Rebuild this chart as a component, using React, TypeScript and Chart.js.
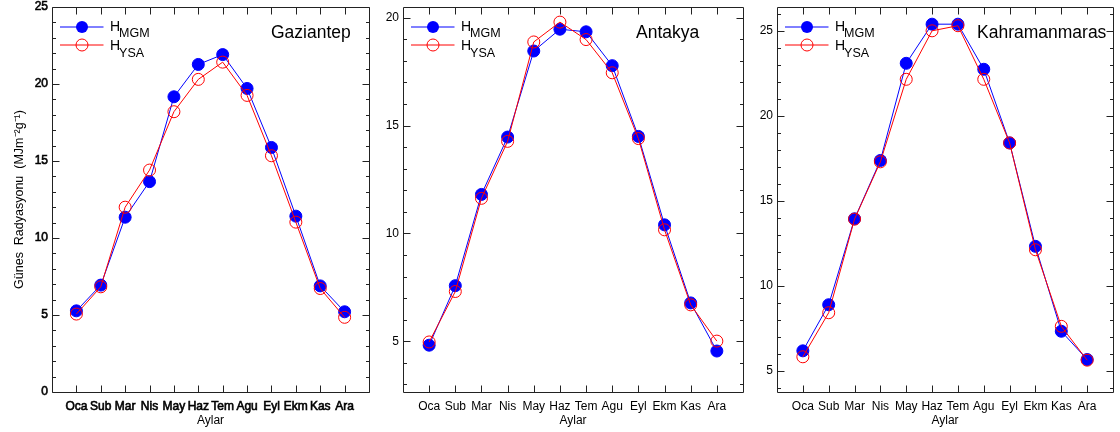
import React, { useEffect, useRef } from "react";
import { Chart, registerables } from "chart.js";

Chart.register(...registerables);

// ---------- data ----------
const months = ["Oca", "Sub", "Mar", "Nis", "May", "Haz", "Tem", "Agu", "Eyl", "Ekm", "Kas", "Ara"];
const monthNumbers = [1, 2, 3, 4, 5, 6, 7, 8, 9, 10, 11, 12];

const gaziantepMGM = [5.27, 6.94, 11.35, 13.66, 19.17, 21.27, 21.91, 19.71, 15.88, 11.42, 6.89, 5.21];
const gaziantepYSA = [5.06, 6.83, 12.0, 14.41, 18.2, 20.3, 21.42, 19.26, 15.34, 11.03, 6.72, 4.85];

const antakyaMGM = [4.82, 7.58, 11.81, 14.47, 18.46, 19.47, 19.35, 17.78, 14.5, 10.4, 6.78, 4.55];
const antakyaYSA = [4.97, 7.31, 11.63, 14.27, 18.88, 19.8, 18.99, 17.45, 14.4, 10.17, 6.69, 5.01];

const kahramanmarasMGM = [6.19, 8.9, 13.95, 17.38, 23.09, 25.39, 25.39, 22.74, 18.41, 12.33, 7.34, 5.68];
const kahramanmarasYSA = [5.84, 8.43, 13.93, 17.3, 22.15, 25.0, 25.3, 22.15, 18.41, 12.13, 7.63, 5.64];

const gaziantepYTicks = [0, 5, 10, 15, 20, 25];
const antakyaYTicks = [5, 10, 15, 20];
const kahramanmarasYTicks = [5, 10, 15, 20, 25];

const seriesNames = ["MGM", "YSA"];
const xTitle = "Aylar";
const yTitle = "Günes  Radyasyonu  (MJm\u207B\u00B2g\u207B\u00B9)";

// ---------- layout / style ----------
const W = 1120;
const H = 432;
const PLOT_TOP = 5;
const PLOT_BOTTOM = 392;
const FONT = '"Liberation Sans", Arial, sans-serif';
const BLUE = "#0000ff";
const RED = "#ff0000";
const FRAME = "#222222";

type PanelCfg = {
  title: string;
  mgm: number[];
  ysa: number[];
  yTicks: number[];
  yMin: number;
  yMax: number;
  plotLeft: number;
  plotRight: number;
  titleOffset: number;
  showYTitle: boolean;
  heavy: boolean;
};

const panels: PanelCfg[] = [
  { title: "Gaziantep", mgm: gaziantepMGM, ysa: gaziantepYSA, yTicks: gaziantepYTicks, yMin: 0, yMax: 25, plotLeft: 52, plotRight: 369, titleOffset: 219, showYTitle: true, heavy: true },
  { title: "Antakya", mgm: antakyaMGM, ysa: antakyaYSA, yTicks: antakyaYTicks, yMin: 2.65, yMax: 20.5, plotLeft: 403, plotRight: 743, titleOffset: 233, showYTitle: false, heavy: false },
  { title: "Kahramanmaras", mgm: kahramanmarasMGM, ysa: kahramanmarasYSA, yTicks: kahramanmarasYTicks, yMin: 3.77, yMax: 26.4, plotLeft: 777, plotRight: 1117, titleOffset: 200, showYTitle: false, heavy: false },
];

const zeroPad = (s: any) => {
  s.paddingTop = 0;
  s.paddingBottom = 0;
  s.paddingLeft = 0;
  s.paddingRight = 0;
};

const idlDecor = {
  id: "idlDecor",
  afterDraw(chart: any, _args: any, opts: any) {
    const { ctx, chartArea } = chart;
    const { left, right, top, bottom } = chartArea;
    const xs = chart.scales.x;
    const ys = chart.scales.y;
    const L = Math.round(left) + 0.5;
    const R = Math.round(right) + 0.5;
    const T = Math.round(top) + 0.5;
    const B = Math.round(bottom) + 0.5;
    ctx.save();
    ctx.strokeStyle = FRAME;
    ctx.lineWidth = 1;
    ctx.beginPath();
    ctx.rect(L, T, R - L, B - T);
    monthNumbers.forEach((m) => {
      const px = Math.round(xs.getPixelForValue(m)) + 0.5;
      ctx.moveTo(px, B);
      ctx.lineTo(px, B - 7);
      ctx.moveTo(px, T);
      ctx.lineTo(px, T + 7);
    });
    for (let v = Math.ceil(ys.min); v <= Math.floor(ys.max); v++) {
      const len = v % 5 === 0 ? 7 : 3.5;
      const py = Math.round(ys.getPixelForValue(v)) + 0.5;
      ctx.moveTo(L, py);
      ctx.lineTo(L + len, py);
      ctx.moveTo(R, py);
      ctx.lineTo(R - len, py);
    }
    ctx.stroke();

    // legend
    const rows = [
      { ds: 0, lineY: 20, hBase: 23.5, subBase: 30 },
      { ds: 1, lineY: 38, hBase: 43, subBase: 49.5 },
    ];
    rows.forEach((r) => {
      const d = chart.data.datasets[r.ds];
      const y = top + r.lineY;
      ctx.strokeStyle = d.borderColor;
      ctx.lineWidth = 1;
      ctx.beginPath();
      ctx.moveTo(left + 8, y);
      ctx.lineTo(left + 51.5, y);
      ctx.stroke();
      ctx.beginPath();
      ctx.arc(left + 30, y, 6, 0, Math.PI * 2);
      if (d.pointBackgroundColor && d.pointBackgroundColor !== "rgba(0,0,0,0)") {
        ctx.fillStyle = d.pointBackgroundColor;
        ctx.fill();
      } else {
        ctx.stroke();
      }
      ctx.fillStyle = "#000";
      ctx.textBaseline = "alphabetic";
      ctx.textAlign = "left";
      ctx.font = `14px ${FONT}`;
      ctx.fillText("H", left + 58, top + r.hBase);
      const hw = ctx.measureText("H").width;
      ctx.font = `12.5px ${FONT}`;
      ctx.fillText(seriesNames[r.ds], left + 58 + hw - 1, top + r.subBase);
    });

    // station title
    ctx.fillStyle = "#000";
    ctx.font = `17.5px ${FONT}`;
    ctx.textAlign = "left";
    ctx.textBaseline = "alphabetic";
    ctx.fillText(opts.title, left + opts.titleOffset, top + 31.3);
    ctx.restore();
  },
};

function Panel({ cfg }: { cfg: PanelCfg }) {
  const ref = useRef<HTMLCanvasElement>(null);
  useEffect(() => {
    const canvas = ref.current;
    if (!canvas) return;
    const yAxisW = cfg.showYTitle ? 50 : 40;
    const tickFont = { family: FONT, size: 12 } as any;
    const stroke = cfg.heavy ? { textStrokeColor: "#000", textStrokeWidth: 0.6 } : {};
    const chart = new Chart(canvas, {
      type: "line",
      data: {
        datasets: [
          {
            label: "H_MGM",
            data: cfg.mgm.map((v, i) => ({ x: monthNumbers[i], y: v })),
            borderColor: BLUE,
            backgroundColor: BLUE,
            borderWidth: 1,
            pointRadius: 6,
            pointBorderWidth: 1,
            pointBackgroundColor: BLUE,
            pointBorderColor: BLUE,
            order: 1,
          },
          {
            label: "H_YSA",
            data: cfg.ysa.map((v, i) => ({ x: monthNumbers[i], y: v })),
            borderColor: RED,
            backgroundColor: "rgba(0,0,0,0)",
            borderWidth: 1,
            pointRadius: 6,
            pointBorderWidth: 1,
            pointBackgroundColor: "rgba(0,0,0,0)",
            pointBorderColor: RED,
            order: 0,
          },
        ],
      },
      options: {
        responsive: false,
        animation: false,
        events: [],
        layout: {
          padding: { left: cfg.plotLeft - yAxisW, right: W - cfg.plotRight, top: PLOT_TOP, bottom: 0 },
        },
        plugins: {
          legend: { display: false },
          tooltip: { enabled: false },
          title: { display: false },
          idlDecor: { title: cfg.title, titleOffset: cfg.titleOffset },
        } as any,
        scales: {
          x: {
            type: "linear",
            min: 0,
            max: 13,
            grid: { display: false, drawTicks: false },
            border: { display: false },
            afterBuildTicks: (s: any) => {
              s.ticks = monthNumbers.map((v) => ({ value: v }));
            },
            afterFit: (s: any) => {
              s.height = H - PLOT_BOTTOM;
              zeroPad(s);
            },
            ticks: {
              autoSkip: false,
              maxRotation: 0,
              padding: 7,
              color: "#000",
              font: tickFont,
              ...stroke,
              callback: (_v: any, i: number) => months[i],
            },
            title: {
              display: true,
              text: xTitle,
              color: "#000",
              font: { family: FONT, size: 12 },
              padding: { top: 0, bottom: 4 },
            },
          },
          y: {
            type: "linear",
            min: cfg.yMin,
            max: cfg.yMax,
            grid: { display: false, drawTicks: false },
            border: { display: false },
            afterBuildTicks: (s: any) => {
              s.ticks = cfg.yTicks.map((v) => ({ value: v }));
            },
            afterFit: (s: any) => {
              s.width = yAxisW;
              zeroPad(s);
            },
            ticks: {
              padding: 4,
              color: "#000",
              font: tickFont,
              ...stroke,
              callback: (v: any) => String(v),
            },
            title: {
              display: cfg.showYTitle,
              text: yTitle,
              color: "#000",
              font: { family: FONT, size: 12.5 },
              padding: { top: 10.5, bottom: 0 },
            },
          },
        },
      } as any,
      plugins: [idlDecor as any],
    });
    return () => chart.destroy();
  }, [cfg]);
  return (
    <canvas
      ref={ref}
      width={W}
      height={H}
      style={{ position: "absolute", left: 0, top: 0, width: W, height: H }}
    />
  );
}

export default function App() {
  return (
    <div style={{ position: "absolute", left: 0, top: 0, width: W, height: H, background: "#fff" }}>
      {panels.map((p) => (
        <Panel key={p.title} cfg={p} />
      ))}
    </div>
  );
}
